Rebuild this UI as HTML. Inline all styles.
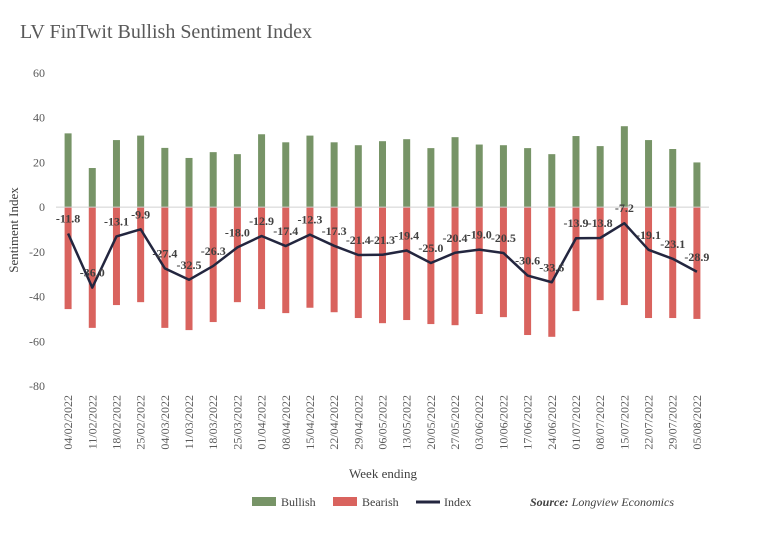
<!DOCTYPE html>
<html><head><meta charset="utf-8">
<style>
body{margin:0;background:#fff;}
svg{display:block;font-family:"Liberation Serif",serif;}
</style></head>
<body>
<svg id="chart" width="778" height="533" viewBox="0 0 778 533" xmlns="http://www.w3.org/2000/svg">
<text x="20" y="38" font-size="20" fill="#595959">LV FinTwit Bullish Sentiment Index</text>
<g id="yaxis"></g>
<g id="bars"></g>
<g id="line"></g>
<g id="xaxis"></g>
<text transform="translate(18,230) rotate(-90)" text-anchor="middle" font-size="13" fill="#404040">Sentiment Index</text>
<text x="383" y="478" text-anchor="middle" font-size="13" fill="#404040">Week ending</text>
<g font-size="12" fill="#404040">
<rect x="252" y="497" width="24" height="9" fill="#779467"/>
<text x="281" y="506">Bullish</text>
<rect x="333" y="497" width="24" height="9" fill="#d9635e"/>
<text x="362" y="506">Bearish</text>
<line x1="416" y1="502" x2="440" y2="502" stroke="#23263f" stroke-width="3"/>
<text x="444" y="506">Index</text>
<text x="530" y="506" font-style="italic"><tspan font-weight="bold">Source:</tspan> Longview Economics</text>
</g>
</svg>
<script>
const categories=["04/02/2022","11/02/2022","18/02/2022","25/02/2022","04/03/2022","11/03/2022","18/03/2022","25/03/2022","01/04/2022","08/04/2022","15/04/2022","22/04/2022","29/04/2022","06/05/2022","13/05/2022","20/05/2022","27/05/2022","03/06/2022","10/06/2022","17/06/2022","24/06/2022","01/07/2022","08/07/2022","15/07/2022","22/07/2022","29/07/2022","05/08/2022"];
const bullish=[33,17.5,30,32,26.5,22,24.6,23.7,32.6,29,32,29,27.7,29.5,30.4,26.4,31.3,28,27.7,26.4,23.7,31.8,27.3,36.2,30,26,20];
const bearish=[-45.6,-54,-43.8,-42.5,-54,-55,-51.4,-42.5,-45.6,-47.4,-45,-47,-49.6,-51.9,-50.5,-52.3,-52.8,-47.8,-49.2,-57.2,-58,-46.5,-41.6,-43.8,-49.6,-49.6,-50];
const indexVals=[-11.8,-36.0,-13.1,-9.9,-27.4,-32.5,-26.3,-18.0,-12.9,-17.4,-12.3,-17.3,-21.4,-21.3,-19.4,-25.0,-20.4,-19.0,-20.5,-30.6,-33.6,-13.9,-13.8,-7.2,-19.1,-23.1,-28.9];
const yTicks=[60,40,20,0,-20,-40,-60,-80];

const NS="http://www.w3.org/2000/svg";
const left=56,right=709,yTop=73,yBot=386,vMax=60,vMin=-80;
const band=(right-left)/categories.length;
const x=i=>left+band*(i+0.5);
const y=v=>yTop+(vMax-v)/(vMax-vMin)*(yBot-yTop);
function mk(tag,attrs,parent){const e=document.createElementNS(NS,tag);for(const k in attrs)e.setAttribute(k,attrs[k]);parent.appendChild(e);return e;}
const gy=document.getElementById('yaxis'),gb=document.getElementById('bars'),gl=document.getElementById('line'),gx=document.getElementById('xaxis');
yTicks.forEach(t=>{const e=mk('text',{x:45,y:y(t)+4,'text-anchor':'end','font-size':12,fill:'#595959'},gy);e.textContent=t;

});
const bw=7;
categories.forEach((c,i)=>{
 const b1=mk('rect',{x:x(i)-bw/2,y:y(bullish[i]),width:bw,height:y(0)-y(bullish[i]),fill:'#779467'},gb);
 
 
 const b2=mk('rect',{x:x(i)-bw/2,y:y(0),width:bw,height:y(bearish[i])-y(0),fill:'#d9635e'},gb);
 
 
 const t=mk('text',{transform:`translate(${x(i)+4},${yTop+322}) rotate(-90)`,'text-anchor':'end','font-size':12,fill:'#595959'},gx);
 t.textContent=c;
 
 
});
const zl=mk('line',{x1:left,x2:right,y1:y(0),y2:y(0),stroke:'#d0d0d0','stroke-width':1},gb);


const pts=indexVals.map((v,i)=>x(i)+','+y(v)).join(' ');
const pl=mk('polyline',{points:pts,fill:'none',stroke:'#23263f','stroke-width':2.5,'stroke-linejoin':'round'},gl);


indexVals.forEach((v,i)=>{const t=mk('text',{x:x(i),y:y(v)-11,'text-anchor':'middle','font-size':12,'font-weight':'bold',fill:'#404040'},gl);
t.textContent=v.toFixed(1);

});
</script>
</body></html>
